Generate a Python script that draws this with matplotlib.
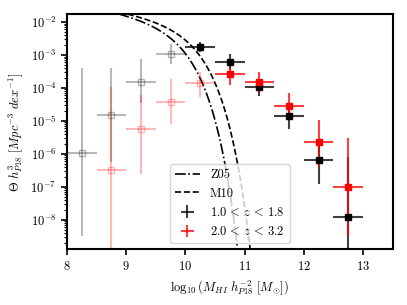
import numpy as np
import matplotlib
matplotlib.use("Agg")
import matplotlib.pyplot as plt

plt.rcParams['font.family'] = 'serif'
plt.rcParams['font.serif'] = ['cmr10', 'DejaVu Serif']
plt.rcParams['mathtext.fontset'] = 'cm'
plt.rcParams['axes.formatter.use_mathtext'] = True
plt.rcParams['axes.unicode_minus'] = False
plt.rcParams['font.size'] = 9

# ---- data: 1.0 < z < 1.8 (black) ----
x_lo = [8.25, 8.75, 9.25, 9.75, 10.25, 10.75, 11.25, 11.75, 12.25, 12.75]
logy_lo = [-5.96, -4.82, -3.81, -2.97, -2.75, -3.20, -3.96, -4.84, -6.18, -7.90]
logy_lo_hi = [-3.40, -3.38, -3.13, -2.67, -2.60, -2.97, -3.72, -4.50, -5.75, -6.08]
logy_lo_lo = [-8.48, -6.26, -4.46, -3.27, -2.90, -3.45, -4.24, -5.25, -6.92, -10.0]
faded_lo = [True, True, True, True, False, False, False, False, False, False]

# ---- data: 2.0 < z < 3.2 (red) ----
x_hi = [8.75, 9.25, 9.75, 10.25, 10.75, 11.25, 11.75, 12.25, 12.75]
logy_hi = [-6.48, -5.25, -4.41, -3.85, -3.58, -3.83, -4.56, -5.65, -6.99]
logy_hi_hi = [-3.96, -4.21, -3.74, -3.51, -3.35, -3.50, -4.16, -4.97, -5.51]
logy_hi_lo = [-10.0, -6.61, -5.10, -4.26, -3.91, -4.15, -4.98, -6.40, -8.50]
faded_hi = [True, True, True, True, False, False, False, False, False]

bin_half = 0.25

# ---- Schechter model parameters (log A, log M*, alpha) ----
z05_params = (-2.0, 9.71, -1.37)
m10_params = (-2.0, 9.92, -1.33)


def schechter(m, logA, mstar, alpha):
    d = m - mstar
    return 10 ** (logA + (alpha + 1) * d - 10 ** d / np.log(10))


fig = plt.figure(figsize=(4.07, 3.05), dpi=100)
ax = fig.add_axes([0.1646, 0.182, 0.7998, 0.7705])

m = np.linspace(8, 13.5, 1000)
ax.plot(m, schechter(m, *z05_params), color='k', ls='-.', lw=1.2, label='Z05')
ax.plot(m, schechter(m, *m10_params), color='k', ls='--', lw=1.2, label='M10')


def draw(xs, ly, lhi, llo, faded, color, label):
    xs = np.array(xs)
    y = 10 ** np.array(ly)
    hi = 10 ** np.array(lhi)
    lo = 10 ** np.array(llo)
    f = np.array(faded)
    yerr = np.vstack([y - lo, hi - y])
    # faded points
    ax.errorbar(xs[f], y[f], xerr=bin_half, yerr=yerr[:, f], fmt='s', ms=4,
                mfc='none', mec=color, ecolor=color, elinewidth=1.5,
                alpha=0.28, capsize=0)
    # solid points
    ax.errorbar(xs[~f], y[~f], xerr=bin_half, yerr=yerr[:, ~f], fmt='none',
                ecolor=color, elinewidth=1.5, alpha=0.75, capsize=0, label=label)
    ax.plot(xs[~f], y[~f], 's', ms=4.5, color=color, zorder=5)


draw(x_lo, logy_lo, logy_lo_hi, logy_lo_lo, faded_lo, 'k', r'$1.0\,<\,z\,<\,1.8$')
draw(x_hi, logy_hi, logy_hi_hi, logy_hi_lo, faded_hi, 'red', r'$2.0\,<\,z\,<\,3.2$')

ax.set_yscale('log')
ax.set_xlim(8, 13.5)
ax.set_ylim(10 ** -8.9, 10 ** -1.77)
ax.set_xticks([8, 9, 10, 11, 12, 13])
ax.set_yticks([1e-8, 1e-7, 1e-6, 1e-5, 1e-4, 1e-3, 1e-2])
ax.yaxis.set_minor_locator(matplotlib.ticker.LogLocator(base=10, subs=np.arange(2, 10) * 0.1 * 10, numticks=100))
ax.yaxis.set_minor_formatter(matplotlib.ticker.NullFormatter())
for s in ax.spines.values():
    s.set_linewidth(1.5)
ax.tick_params(which='major', width=1.2, length=4)
ax.tick_params(which='minor', width=0.8, length=2)

ax.set_xlabel(r'$\log_{10}(M_{HI}\ h^{-2}_{P18}\ [M_{\odot}])$')
ax.set_ylabel(r'$\Theta\ h^{3}_{P18}\ [Mpc^{-3}\ dex^{-1}]$')

ax.legend(loc='lower center', fontsize=9)

fig.savefig('out.png', dpi=100)
